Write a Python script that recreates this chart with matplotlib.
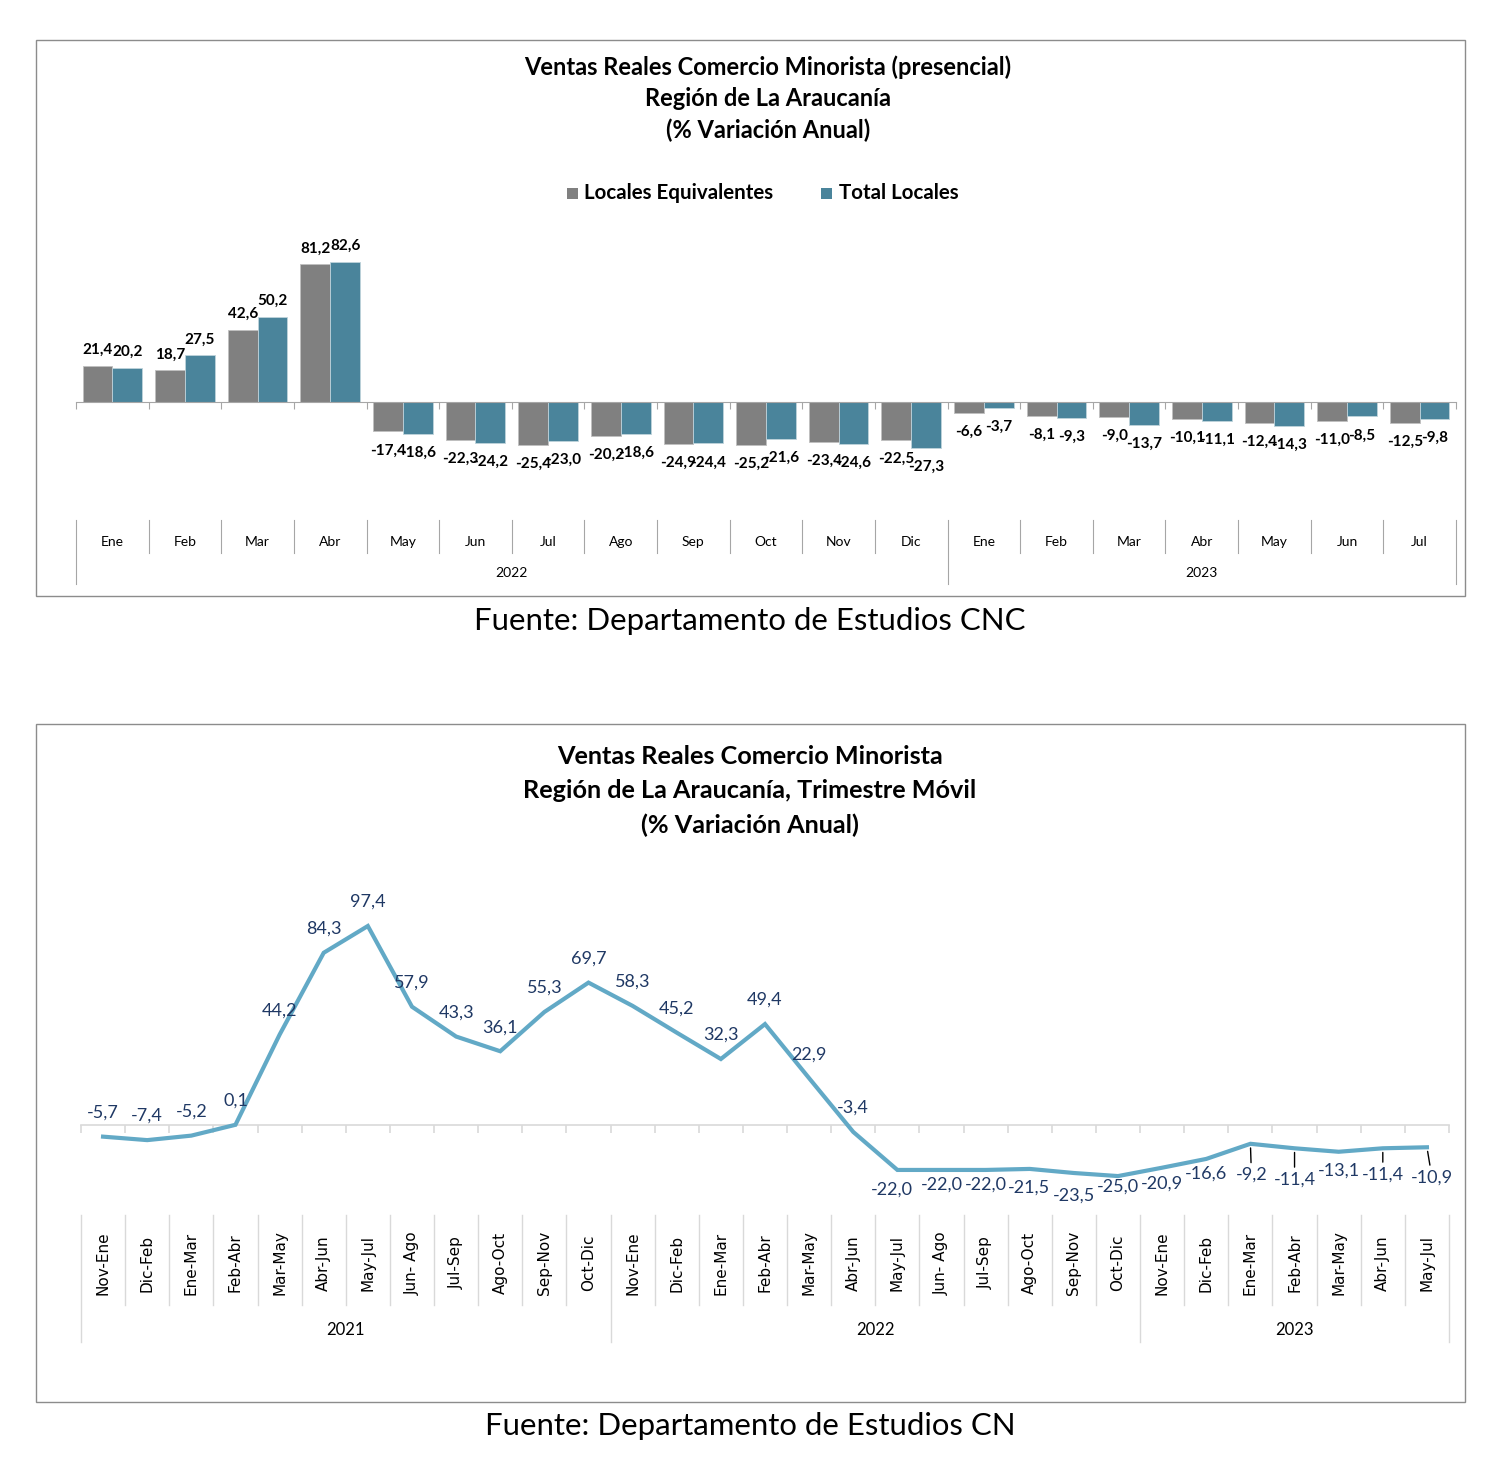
import numpy as np
import matplotlib
matplotlib.use("Agg")
import matplotlib.pyplot as plt
import matplotlib.transforms as mtransforms
from matplotlib.patches import Rectangle

# ---------------- DATA ----------------
months_top = ['Ene', 'Feb', 'Mar', 'Abr', 'May', 'Jun', 'Jul', 'Ago', 'Sep', 'Oct', 'Nov', 'Dic',
              'Ene', 'Feb', 'Mar', 'Abr', 'May', 'Jun', 'Jul']
years_top = ['2022', '2023']
year_counts_top = [12, 7]
locales_equivalentes = [21.4, 18.7, 42.6, 81.2, -17.4, -22.3, -25.4, -20.2, -24.9, -25.2, -23.4, -22.5,
                        -6.6, -8.1, -9.0, -10.1, -12.4, -11.0, -12.5]
total_locales = [20.2, 27.5, 50.2, 82.6, -18.6, -24.2, -23.0, -18.6, -24.4, -21.6, -24.6, -27.3,
                 -3.7, -9.3, -13.7, -11.1, -14.3, -8.5, -9.8]
series_names = ['Locales Equivalentes', 'Total Locales']

periods_bottom = ['Nov-Ene', 'Dic-Feb', 'Ene-Mar', 'Feb-Abr', 'Mar-May', 'Abr-Jun', 'May-Jul', 'Jun- Ago',
                  'Jul-Sep', 'Ago-Oct', 'Sep-Nov', 'Oct-Dic',
                  'Nov-Ene', 'Dic-Feb', 'Ene-Mar', 'Feb-Abr', 'Mar-May', 'Abr-Jun', 'May-Jul', 'Jun- Ago',
                  'Jul-Sep', 'Ago-Oct', 'Sep-Nov', 'Oct-Dic',
                  'Nov-Ene', 'Dic-Feb', 'Ene-Mar', 'Feb-Abr', 'Mar-May', 'Abr-Jun', 'May-Jul']
years_bottom = ['2021', '2022', '2023']
year_counts_bottom = [12, 12, 7]
trimestre_movil = [-5.7, -7.4, -5.2, 0.1, 44.2, 84.3, 97.4, 57.9, 43.3, 36.1, 55.3, 69.7,
                   58.3, 45.2, 32.3, 49.4, 22.9, -3.4, -22.0, -22.0, -22.0, -21.5, -23.5, -25.0,
                   -20.9, -16.6, -9.2, -11.4, -13.1, -11.4, -10.9]

title_top = ['Ventas Reales Comercio Minorista (presencial)', 'Región de La Araucanía', '(% Variación Anual)']
title_bottom = ['Ventas Reales Comercio Minorista', 'Región de La Araucanía, Trimestre Móvil', '(% Variación Anual)']
source_top = 'Fuente: Departamento de Estudios CNC'
source_bottom = 'Fuente: Departamento de Estudios CN'

# ---------------- STYLE ----------------
W, H = 1508, 1476
FONT = 'Lato'
GRAY = '#808080'
TEAL = '#4A849B'
LINE = '#62A9C6'
NAVY = '#1F3864'

plt.rcParams['font.family'] = [FONT, 'DejaVu Sans']


def fmt(v):
    return f'{v:.1f}'.replace('.', ',')


def fx(x):
    return x / W


def fy(y):
    return 1 - y / H


fig = plt.figure(figsize=(W / 100, H / 100), dpi=100)
fig.patch.set_facecolor('white')

# frames
for (x0, y0, x1, y1) in [(36, 40, 1465, 596), (36, 724, 1465, 1402)]:
    fig.patches.append(Rectangle((fx(x0), fy(y1)), fx(x1) - fx(x0), fy(y0) - fy(y1),
                                 transform=fig.transFigure, fill=False, edgecolor='#8C8C8C', lw=1.0))


def add_axes_px(left, top, right, bottom):
    return fig.add_axes([fx(left), fy(bottom), fx(right) - fx(left), fy(top) - fy(bottom)])


# ================= TOP: BAR CHART =================
for txt, y in zip(title_top, [67, 99, 130]):
    fig.text(fx(768), fy(y), txt, ha='center', va='center', fontsize=17, fontweight='bold', color='black')

# legend
fig.patches.append(Rectangle((fx(567), fy(199)), fx(11), 11 / H, transform=fig.transFigure,
                             facecolor=GRAY, edgecolor='none'))
fig.text(fx(584), fy(193), series_names[0], ha='left', va='center', fontsize=14.8, fontweight='bold')
fig.patches.append(Rectangle((fx(821), fy(199)), fx(11), 11 / H, transform=fig.transFigure,
                             facecolor=TEAL, edgecolor='none'))
fig.text(fx(839), fy(193), series_names[1], ha='left', va='center', fontsize=14.8, fontweight='bold')

ax1 = add_axes_px(76, 240, 1456, 500)
n1 = len(months_top)
x1 = np.arange(n1)
bw = 0.41
zero1, scale1 = 402, 1.695
ax1.set_xlim(-0.5, n1 - 0.5)
ax1.set_ylim((zero1 - 500) / scale1, (zero1 - 240) / scale1)
b1 = ax1.bar(x1 - bw / 2, locales_equivalentes, bw, color=GRAY, edgecolor='#BFBFBF', lw=0.6)
b2 = ax1.bar(x1 + bw / 2, total_locales, bw, color=TEAL, edgecolor='#BFD3DB', lw=0.6)
for xs, vals in [(x1 - bw / 2, locales_equivalentes), (x1 + bw / 2, total_locales)]:
    for xi, v in zip(xs, vals):
        off = 16 if v >= 0 else -19
        ax1.annotate(fmt(v), (xi, v), xytext=(0, off), textcoords='offset pixels',
                     ha='center', va='center', fontsize=11, fontweight='bold', color='black')
for s in ['top', 'right', 'left']:
    ax1.spines[s].set_visible(False)
ax1.spines['bottom'].set_position(('data', 0))
ax1.spines['bottom'].set_color('#A6A6A6')
ax1.set_xticks(np.arange(-0.5, n1, 1))
ax1.tick_params(axis='x', length=5, color='#A6A6A6', labelbottom=False, direction='out')
ax1.set_yticks([])
ax1.patch.set_alpha(0)

tr1 = mtransforms.blended_transform_factory(ax1.transData, fig.transFigure)
bounds_top = np.cumsum([0] + year_counts_top)
for k in range(n1 + 1):
    ybot = 584 if k in bounds_top else 553
    ax1.plot([k - 0.5, k - 0.5], [fy(520), fy(ybot)], transform=tr1, color='#A6A6A6', lw=0.8, clip_on=False)
for i, m in enumerate(months_top):
    ax1.text(i, fy(542), m, transform=tr1, ha='center', va='center', fontsize=10)
for yr, a, b in zip(years_top, bounds_top[:-1], bounds_top[1:]):
    ax1.text((a + b - 1) / 2, fy(573), yr, transform=tr1, ha='center', va='center', fontsize=10)

fig.text(fx(750), fy(621), source_top, ha='center', va='center', fontsize=22.4)

# ================= BOTTOM: LINE CHART =================
for txt, y in zip(title_bottom, [757, 791, 825]):
    fig.text(fx(750), fy(y), txt, ha='center', va='center', fontsize=18.2, fontweight='bold', color='black')

ax2 = add_axes_px(81, 860, 1449, 1210)
n2 = len(periods_bottom)
x2 = np.arange(n2)
zero2, scale2 = 1125, 2.043
ax2.set_xlim(-0.5, n2 - 0.5)
ax2.set_ylim((zero2 - 1210) / scale2, (zero2 - 860) / scale2)
ax2.plot(x2, trimestre_movil, color=LINE, lw=3.0, solid_joinstyle='miter', zorder=3)

label_offsets = {18: (-6, -20), 19: (0, -15), 20: (0, -15), 21: (-1, -19), 22: (0, -23), 23: (0, -11),
                 24: (0, -16), 25: (0, -15), 26: (1, -31), 27: (0, -31), 28: (0, -19), 29: (0, -26),
                 30: (5, -30)}
leaders = {26, 27, 29, 30}
for i, v in enumerate(trimestre_movil):
    dx, dy = label_offsets.get(i, (0, 24))
    kw = {}
    if i in leaders:
        kw['arrowprops'] = dict(arrowstyle='-', color='black', lw=1.0, shrinkA=1, shrinkB=3)
    ax2.annotate(fmt(v), (i, v), xytext=(dx, dy), textcoords='offset pixels',
                 ha='center', va='center', fontsize=13, color=NAVY, **kw)

for s in ['top', 'right', 'left']:
    ax2.spines[s].set_visible(False)
ax2.spines['bottom'].set_position(('data', 0))
ax2.spines['bottom'].set_color('#D9D9D9')
ax2.spines['bottom'].set_linewidth(1.2)
ax2.set_xticks(np.arange(-0.5, n2, 1))
ax2.tick_params(axis='x', length=6, color='#D9D9D9', width=1.2, labelbottom=False, direction='out')
ax2.set_yticks([])
ax2.patch.set_alpha(0)

tr2 = mtransforms.blended_transform_factory(ax2.transData, fig.transFigure)
bounds_bottom = np.cumsum([0] + year_counts_bottom)
for k in range(n2 + 1):
    ybot = 1342 if k in bounds_bottom else 1305
    ax2.plot([k - 0.5, k - 0.5], [fy(1215), fy(ybot)], transform=tr2, color='#D9D9D9', lw=1.0, clip_on=False)
for i, p in enumerate(periods_bottom):
    ax2.text(i, fy(1263), p, transform=tr2, ha='center', va='center', rotation=90, fontsize=11,
             family=['DejaVu Sans'])
for yr, a, b in zip(years_bottom, bounds_bottom[:-1], bounds_bottom[1:]):
    ax2.text((a + b - 1) / 2, fy(1330), yr, transform=tr2, ha='center', va='center', fontsize=12)

fig.text(fx(750), fy(1426), source_bottom, ha='center', va='center', fontsize=22.4)

fig.savefig('out.png', dpi=100, facecolor='white')
